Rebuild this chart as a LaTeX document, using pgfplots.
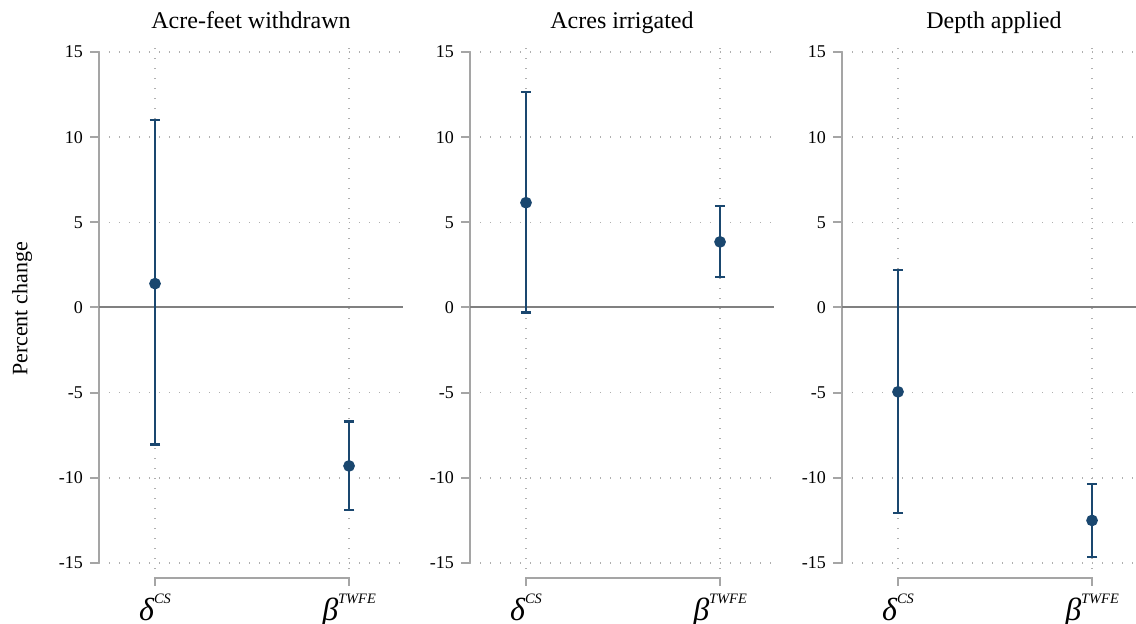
\documentclass[border=0pt]{standalone}
\usepackage{fontspec}
\setmainfont{Liberation Serif}
\usepackage{pgfplots}
\pgfplotsset{compat=1.18}

\definecolor{navy}{RGB}{26,71,111}
\definecolor{axgray}{RGB}{165,165,165}
\definecolor{zerogray}{RGB}{128,128,128}
\definecolor{gridgray}{RGB}{175,175,175}

\pgfplotsset{
  panel/.style={
    scale only axis,
    width=152pt, height=264.5pt,
    anchor=south west,
    xmin=-0.2887, xmax=1.278,
    ymin=-15.35, ymax=15.7,
    axis line style={draw=none},
    ytick={-15,-10,...,15},
    ytick pos=left,
    xtick={0,1},
    xticklabels={{\fontsize{16}{18}\selectfont\itshape δ\raisebox{1.1ex}{\fontsize{7.2}{8}\selectfont CS}},
                 {\fontsize{16}{18}\selectfont\itshape β\raisebox{1.1ex}{\fontsize{7.2}{8}\selectfont TWFE}}},
    xticklabel style={anchor=base, yshift=-21pt},
    major x tick style={draw=none},
    yticklabel style={font=\fontsize{9}{10}\selectfont},
    /pgf/number format/assume math mode=true,
    tick align=outside,
    major tick length=4.5pt,
    ytick style={axgray, line width=1pt},
    grid=major,
    major grid style={gridgray, line width=0.7pt, dash pattern=on 0.7pt off 4.3pt},
    every axis title shift=0pt,
    title style={font=\fontsize{12}{14}\selectfont, at={(0.5,1)}, anchor=base, yshift=6pt},
    clip=false,
  },
  ci/.style={
    navy, line width=1.2pt,
    mark=*, mark size=2.3pt, mark options={fill=navy, draw=navy},
    only marks,
    error bars/.cd, y dir=both, y explicit,
    error bar style={line width=1.2pt, navy},
    error mark options={rotate=90, mark size=2.6pt, line width=1.2pt, navy},
  },
}
\newcommand{\panelframe}{%
  \draw[axgray, line width=1pt] (axis cs:-0.2887,-15) -- (axis cs:-0.2887,15);
  \draw[zerogray, line width=1pt] (axis cs:-0.2887,0) -- (axis cs:1.278,0);
  \draw[axgray, line width=1pt] ([yshift=-4pt]axis cs:0,-15.87) -- (axis cs:0,-15.87)
     -- (axis cs:1,-15.87) -- ([yshift=-4pt]axis cs:1,-15.87);
}

\begin{document}
\begin{tikzpicture}

\begin{axis}[panel, at={(49.5pt,27pt)}, title={Acre-feet withdrawn},
  ylabel={Percent change},
  ylabel style={font=\fontsize{11}{12}\selectfont, at={(axis description cs:-0.253,0.4915)}, anchor=center}]
\panelframe
\addplot+[ci] coordinates {
  (0,1.4) += (0,9.6) -= (0,9.45)
  (1,-9.3) += (0,2.6) -= (0,2.6)
};
\end{axis}

\begin{axis}[panel, at={(235pt,27pt)}, title={Acres irrigated}]
\panelframe
\addplot+[ci] coordinates {
  (0,6.15) += (0,6.5) -= (0,6.45)
  (1,3.85) += (0,2.1) -= (0,2.05)
};
\end{axis}

\begin{axis}[panel, at={(421pt,27pt)}, title={Depth applied}]
\panelframe
\addplot+[ci] coordinates {
  (0,-4.95) += (0,7.15) -= (0,7.1)
  (1,-12.5) += (0,2.15) -= (0,2.15)
};
\end{axis}

\pgfresetboundingbox
\useasboundingbox (0,0) rectangle (568pt,311.5pt);
\end{tikzpicture}
\end{document}
